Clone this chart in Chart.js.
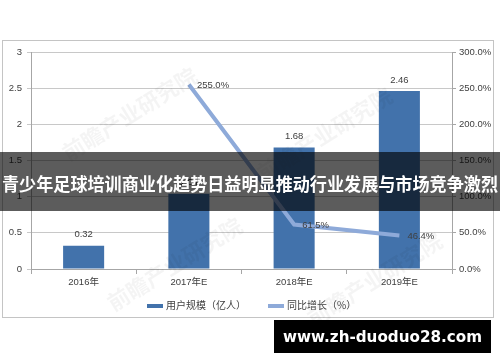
<!DOCTYPE html>
<html><head><meta charset="utf-8">
<script src="https://cdn.jsdelivr.net/npm/chart.js@4/dist/chart.umd.min.js"></script>
<style>
html,body{margin:0;padding:0;background:#fff;}
#wrap{position:relative;width:500px;height:362px;overflow:hidden;font-family:"Liberation Sans","Noto Sans CJK SC",sans-serif;}
#c{position:absolute;left:0;top:0;}
#frame{position:absolute;left:2px;top:40px;width:492px;height:278px;border:1px solid #c4c4c4;box-sizing:border-box;}
.wm{position:absolute;color:rgba(0,0,0,0.045);font-family:"Noto Sans CJK SC";font-weight:bold;font-size:22px;transform:rotate(-32deg);transform-origin:left top;white-space:nowrap;}
#legend{position:absolute;top:297px;left:147px;font-family:"Noto Sans CJK SC";font-size:10px;color:#404040;white-space:nowrap;}
.sw{display:inline-block;width:16px;height:4px;vertical-align:middle;margin-right:3px;}
#band{position:absolute;left:0;top:152px;width:500px;height:59px;background:rgba(0,0,0,0.64);}
#bt{position:absolute;left:2px;top:18px;color:#fff;font-family:"Noto Sans CJK SC";font-weight:bold;font-size:17.7px;line-height:26px;white-space:nowrap;transform-origin:left center;}
#bb{position:absolute;left:274px;top:320px;width:217px;height:33px;background:#000;}
#bbt{position:absolute;left:9px;top:0;color:#fff;font-family:"DejaVu Sans";font-weight:bold;font-size:16px;line-height:33px;white-space:nowrap;transform-origin:left center;}
</style></head>
<body>
<div id="wrap">
<canvas id="c" width="500" height="362"></canvas>
<div id="frame"></div>
<div class="wm" style="left:55px;top:140px;">前瞻产业研究院</div>
<div class="wm" style="left:100px;top:290px;">前瞻产业研究院</div>
<div class="wm" style="left:250px;top:160px;">前瞻产业研究院</div>
<div class="wm" style="left:300px;top:305px;">前瞻产业研究院</div>
<div id="legend"><span class="sw" style="background:#4272ab"></span>用户规模（亿人）<span style="display:inline-block;width:22px"></span><span class="sw" style="background:#8eaad9"></span>同比增长（%）</div>
<div id="band"><span id="bt">青少年足球培训商业化趋势日益明显推动行业发展与市场竞争激烈</span></div>
<div id="bb"><span id="bbt">www.zh-duoduo28.com</span></div>
</div>
<script>
const categories = ["2016年", "2017年E", "2018年E", "2019年E"];
const users = [0.32, 1.04, 1.68, 2.46];
const growth = [null, 255.0, 61.5, 46.4];
const leftTicks = [0, 0.5, 1, 1.5, 2, 2.5, 3];
const rightTicks = [0, 50, 100, 150, 200, 250, 300];

// fit overlay texts to the widths seen in the reference
function fitWidth(id, target) {
  const el = document.getElementById(id);
  const w = el.getBoundingClientRect().width;
  if (w > 0) el.style.transform = 'scaleX(' + (target / w) + ')';
}
fitWidth('bt', 496);
fitWidth('bbt', 199);

const FONT = '"Liberation Sans","Noto Sans CJK SC",sans-serif';
const labelPlugin = {
  id: 'vlabels',
  afterDatasetsDraw(chart) {
    const ctx = chart.ctx;
    ctx.save();
    ctx.font = '9.5px ' + FONT;
    ctx.fillStyle = '#404040';
    const m0 = chart.getDatasetMeta(0);
    m0.data.forEach((el, i) => {
      ctx.textAlign = 'center'; ctx.textBaseline = 'middle';
      ctx.fillText(users[i].toFixed(2), el.x, el.y - 11);
    });
    const m1 = chart.getDatasetMeta(1);
    m1.data.forEach((el, i) => {
      if (growth[i] == null) return;
      ctx.textAlign = 'left'; ctx.textBaseline = 'middle';
      ctx.fillText(growth[i].toFixed(1) + '%', el.x + 8, el.y + 1);
    });
    ctx.restore();
  }
};

new Chart(document.getElementById('c'), {
  data: {
    labels: categories,
    datasets: [
      { type: 'bar', label: '用户规模（亿人）', data: users, yAxisID: 'y', backgroundColor: '#4272ab', categoryPercentage: 1, barPercentage: 0.39, order: 2 },
      { type: 'line', label: '同比增长（%）', data: growth, yAxisID: 'y1', borderColor: '#8eaad9', borderWidth: 4, pointRadius: 0, tension: 0, spanGaps: false, order: 1 }
    ]
  },
  options: {
    responsive: false, animation: false,
    layout: { padding: { left: 0, right: 0, top: 52, bottom: 68 } },
    plugins: { legend: { display: false }, tooltip: { enabled: false } },
    scales: {
      x: {
        offset: true,
        grid: { offset: true, drawOnChartArea: false, tickLength: 5, color: '#a6a6a6' },
        border: { color: '#a6a6a6' },
        ticks: { color: '#404040', font: { size: 9.5, family: FONT }, padding: 3 },
        afterFit(s) { s.height = 25; }
      },
      y: {
        position: 'left', min: 0, max: 3,
        afterBuildTicks(s) { s.ticks = leftTicks.map(v => ({ value: v })); },
        grid: { color: '#c8c8c8', tickLength: 4 },
        border: { color: '#a6a6a6' },
        ticks: { color: '#404040', font: { size: 9.5, family: FONT }, padding: 5, callback: v => String(v) },
        afterFit(s) { s.width = 31; }
      },
      y1: {
        position: 'right', min: 0, max: 300,
        afterBuildTicks(s) { s.ticks = rightTicks.map(v => ({ value: v })); },
        grid: { drawOnChartArea: false, tickLength: 4, color: '#a6a6a6' },
        border: { color: '#a6a6a6' },
        ticks: { color: '#404040', font: { size: 9.5, family: FONT }, padding: 3, callback: v => v.toFixed(1) + '%' },
        afterFit(s) { s.width = 48; }
      }
    }
  },
  plugins: [labelPlugin]
});
</script>
</body></html>
